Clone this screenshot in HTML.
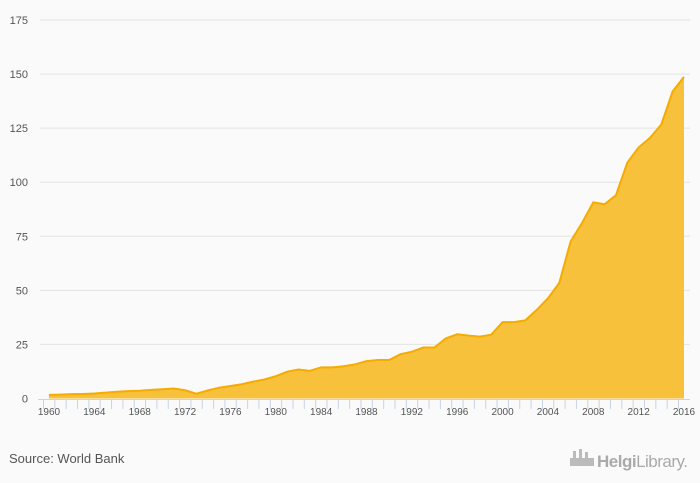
<!DOCTYPE html>
<html><head><meta charset="utf-8"><style>
body{margin:0;background:#fafafa;font-family:"Liberation Sans",sans-serif;}
svg{display:block}
</style></head><body>
<svg id="chart" width="700" height="483">
<rect width="700" height="483" fill="#fafafa"/>
<g id="grid"></g><g id="plot"></g><g id="xaxis"></g>
<text x="9" y="463" font-size="13" fill="#555">Source: World Bank</text>
<g>
<rect x="570" y="458" width="24" height="8" fill="#bbb"/>
<rect x="573" y="451" width="3" height="7" fill="#bbb"/><rect x="579" y="449" width="3" height="9" fill="#bbb"/><rect x="585" y="452" width="3" height="6" fill="#bbb"/>
<text x="597" y="467" font-size="17" fill="#aaa" font-weight="bold" letter-spacing="-0.5">Helgi<tspan font-weight="normal">Library.</tspan></text>
</g>
</svg>
<script>
const years=[1960,1961,1962,1963,1964,1965,1966,1967,1968,1969,1970,1971,1972,1973,1974,1975,1976,1977,1978,1979,1980,1981,1982,1983,1984,1985,1986,1987,1988,1989,1990,1991,1992,1993,1994,1995,1996,1997,1998,1999,2000,2001,2002,2003,2004,2005,2006,2007,2008,2009,2010,2011,2012,2013,2014,2015,2016];
const values=[1.7,1.8,2.0,2.1,2.3,2.7,3.1,3.4,3.6,4.0,4.3,4.6,3.8,2.2,3.7,5.0,5.8,6.6,7.8,8.8,10.3,12.4,13.4,12.8,14.4,14.4,14.9,15.8,17.3,17.8,17.8,20.5,21.6,23.6,23.6,27.8,29.7,29.1,28.6,29.5,35.3,35.3,36.1,40.9,46.3,53.4,72.6,81.1,90.7,89.8,94.0,109.0,116.1,120.5,126.7,142.0,148.7];
const yTicks=[0,25,50,75,100,125,150,175];
const xLabels=[1960,1964,1968,1972,1976,1980,1984,1988,1992,1996,2000,2004,2008,2012,2016];
const NS="http://www.w3.org/2000/svg";
const x0=49,x1=684,y0=398.5,yTop=20;
const xs=y=>x0+(y-1960)/(2016-1960)*(x1-x0);
const ys=v=>y0-v/175*(y0-yTop);
function mk(t,a,p){const e=document.createElementNS(NS,t);for(const k in a)e.setAttribute(k,a[k]);p.appendChild(e);return e;}
const grid=document.getElementById('grid');
yTicks.forEach(t=>{
 if(t>0){const l=mk('line',{x1:40,x2:690,y1:ys(t),y2:ys(t),stroke:'#e3e3e3','stroke-width':1},grid);
 
 }
 const tx=mk('text',{x:28,y:ys(t)+4,'font-size':11,fill:'#555','text-anchor':'end'},grid);tx.textContent=t;
 
 
});
const plot=document.getElementById('plot');
let d='M'+xs(years[0])+','+ys(values[0]);
years.forEach((y,i)=>{d+=' L'+xs(y)+','+ys(values[i]);});
const area=mk('path',{d:d+' L'+xs(years[years.length-1])+','+y0+' L'+xs(years[0])+','+y0+' Z',fill:'#f8c13c'},plot);


const line=mk('path',{d:d,fill:'none',stroke:'#f5ab00','stroke-width':2},plot);


const xa=document.getElementById('xaxis');
const ax=mk('line',{x1:38,x2:690,y1:399.5,y2:399.5,stroke:'#c8d4e6','stroke-width':1},xa);


years.forEach(y=>{const tk=mk('line',{x1:xs(y)-5.5,x2:xs(y)-5.5,y1:399.5,y2:409,stroke:'#c8d4e6','stroke-width':1},xa);
 
 });
xLabels.forEach(y=>{const t=mk('text',{x:xs(y),y:415,'font-size':10,fill:'#555','text-anchor':'middle'},xa);t.textContent=y;
 
 });
</script>
</body></html>
